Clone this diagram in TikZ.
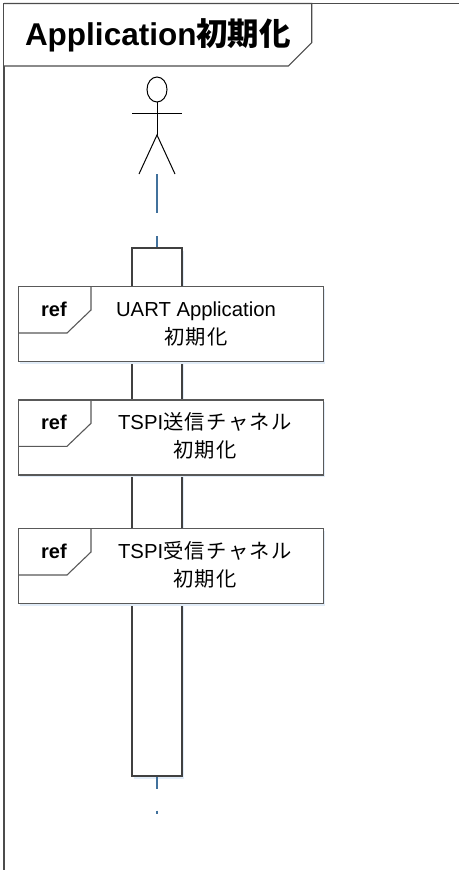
\documentclass[tikz,border=0pt]{standalone}
\usepackage{fontspec}
\setmainfont{Liberation Sans}
\newfontfamily\jp{Noto Sans CJK JP}
\newfontfamily\jpref[LetterSpace=7]{Noto Sans CJK JP}
\usetikzlibrary{shadows}
\definecolor{lifeblue}{RGB}{65,113,156}
\definecolor{glow}{RGB}{225,236,248}

\begin{document}
\begin{tikzpicture}[x=1pt,y=-1pt,
  frame/.style={draw=black!70,line width=1.4pt},
  glowshadow/.style={drop shadow={shadow xshift=1.5pt,shadow yshift=-2.5pt,fill=glow,draw=none,opacity=1}},
  refbox/.style={draw=black!65,line width=1.3pt,fill=white,anchor=north west,minimum width=305pt,minimum height=75pt,inner sep=0pt,glowshadow},
  reftab/.style={draw=black!65,line width=1.1pt},
  reftext/.style={anchor=base,inner sep=0pt,font=\fontsize{20.3}{24}\selectfont},
  lifeline/.style={draw=lifeblue,line width=2pt}]
\useasboundingbox[fill=white] (0,0) rectangle (458,870);
% frame and title
\draw[frame] (4,880) -- (4,3.5) -- (470,3.5);
\draw[frame,line width=1.1pt,fill=white] (4,3.5) -- (311.7,3.5) -- (311.7,42.7) -- (288.3,66) -- (4,66);
\node[anchor=base,inner sep=0pt,font=\fontsize{31.5}{36}\selectfont\bfseries] (title) at (158,45.7) {Application{\jp 初期化}};
% actor
\draw[line width=1pt] (157,89.5) ellipse (10 and 12.5);
\draw[line width=1pt] (132,113) -- (182,113);
\draw[line width=1pt] (157,102) -- (157,135) coordinate (hip);
\draw[line width=1pt] (139,174) -- (hip) -- (175,174);
\coordinate (actor) at (157,174);
% activation
\node[draw=black!75,line width=1.3pt,fill=white,minimum width=50pt,minimum height=528pt,inner sep=0pt,glowshadow] (act) at (157,512) {};
\draw[lifeline,dash pattern=on 39pt off 23pt] (actor) -- (act.north);
\coordinate (lifeend) at (157,814);
\draw[lifeline,dash pattern=on 12pt off 22pt on 4pt off 20pt] (act.south) -- (lifeend);
% ref boxes
\node[refbox] (uart) at (18,286) {};
\draw[reftab] ([xshift=73pt]uart.north west) -- ++(0,24) -- ++(-24,23) -- ++(-49,0);
\node[reftext,font=\fontsize{20}{24}\selectfont\bfseries] (uartref) at (54,316) {ref};
\node[reftext] (uartA) at (196,316) {UART Application};
\node[reftext] (uartB) at (196,344) {\jpref 初期化};

\node[refbox] (tx) at (18,399.3) {};
\draw[reftab] ([xshift=73pt]tx.north west) -- ++(0,24) -- ++(-24,23) -- ++(-49,0);
\node[reftext,font=\fontsize{20}{24}\selectfont\bfseries] (txref) at (54,429.3) {ref};
\node[reftext] (txA) at (205,429.3) {TSPI{\jpref 送信チャネル}};
\node[reftext] (txB) at (205,457.3) {\jpref 初期化};

\node[refbox] (rx) at (18,528) {};
\draw[reftab] ([xshift=73pt]rx.north west) -- ++(0,24) -- ++(-24,23) -- ++(-49,0);
\node[reftext,font=\fontsize{20}{24}\selectfont\bfseries] (rxref) at (54,558) {ref};
\node[reftext] (rxA) at (205,558) {TSPI{\jpref 受信チャネル}};
\node[reftext] (rxB) at (205,586) {\jpref 初期化};
\end{tikzpicture}
\end{document}
